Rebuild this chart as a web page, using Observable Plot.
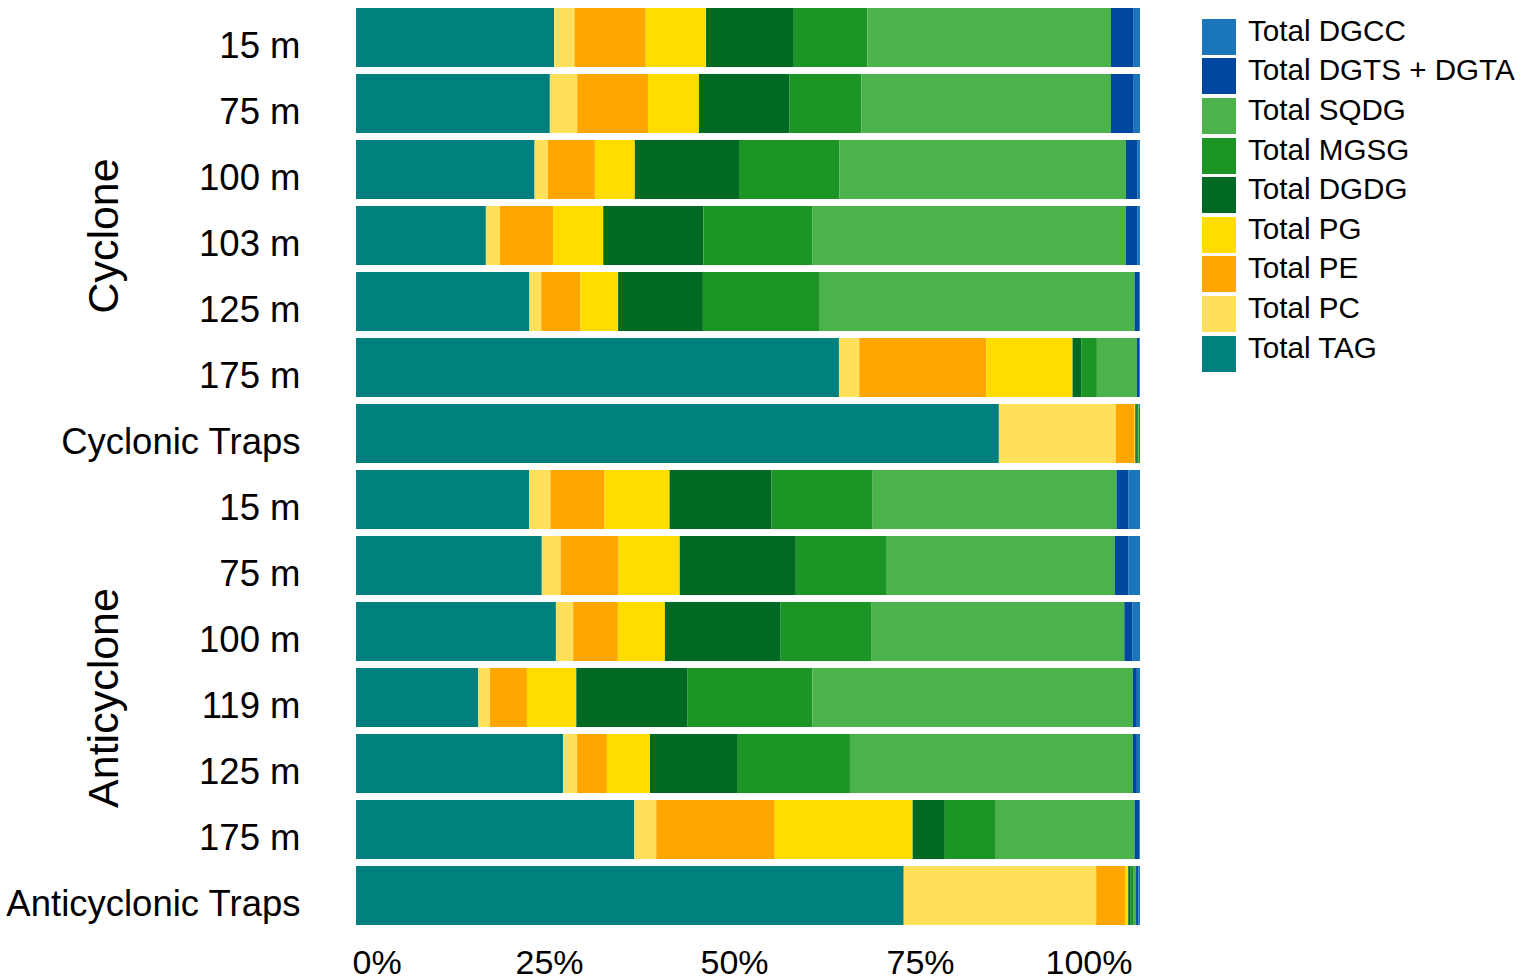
<!DOCTYPE html>
<html><head><meta charset="utf-8">
<script src="https://cdn.jsdelivr.net/npm/d3@7"></script>
<script src="https://cdn.jsdelivr.net/npm/@observablehq/plot@0.6"></script>
<style>
body{margin:0;background:#fff;font-family:"Liberation Sans",Arial,sans-serif;}
#wrap{position:relative;width:1524px;height:980px;overflow:hidden;}
#legend{position:absolute;left:1202px;top:17px;}
.item{display:flex;align-items:center;height:39.6px;}
.sw{width:34px;height:36px;flex:none;}
.lab{margin-left:12px;font-size:29.6px;color:#000;position:relative;top:-6px;white-space:nowrap;}
</style></head><body><div id="wrap"><div id="chart"></div><div id="legend"></div></div>
<script>
// Row categories (top to bottom)
const groups = ["Cyclone", "Anticyclone"];
const rowGroups = ["Cyclone","Cyclone","Cyclone","Cyclone","Cyclone","Cyclone","Cyclone",
  "Anticyclone","Anticyclone","Anticyclone","Anticyclone","Anticyclone","Anticyclone","Anticyclone"];
const rowLabels = ["15 m","75 m","100 m","103 m","125 m","175 m","Cyclonic Traps",
  "15 m","75 m","100 m","119 m","125 m","175 m","Anticyclonic Traps"];

// Lipid classes (stack order, left to right)
const lipids = ["Total TAG","Total PC","Total PE","Total PG","Total DGDG","Total MGSG","Total SQDG","Total DGTS + DGTA","Total DGCC"];
const lipidColors = ["#007f7f","#ffe05c","#ffa600","#ffdd00","#006a25","#1d9426","#4bb24c","#0047a0","#1b75bb"];

// Percent values per row
const TAG  = [25.3, 24.7, 22.8, 16.6, 22.1, 61.6, 82.0, 22.1, 23.7, 25.5, 15.6, 26.4, 35.5, 70.0];
const PC   = [ 2.6,  3.5,  1.7,  1.8,  1.5,  2.6, 14.9,  2.7,  2.4,  2.2,  1.5,  1.8,  2.8, 24.6];
const PE   = [ 9.1,  9.0,  6.0,  6.8,  5.0, 16.2,  2.4,  6.9,  7.4,  5.7,  4.7,  3.8, 15.1,  3.7];
const PG   = [ 7.7,  6.5,  5.1,  6.4,  4.8, 11.0,  0.1,  8.3,  7.8,  6.0,  6.3,  5.5, 17.6,  0.4];
const DGDG = [11.2, 11.5, 13.3, 12.8, 10.8,  1.1,  0.2, 13.0, 14.8, 14.7, 14.2, 11.2,  4.1,  0.3];
const MGSG = [ 9.4,  9.2, 12.8, 13.9, 14.8,  2.0,  0.2, 12.9, 11.6, 11.6, 15.9, 14.3,  6.5,  0.4];
const SQDG = [31.1, 31.8, 36.6, 40.1, 40.2,  5.1,  0.1, 31.1, 29.1, 32.3, 40.9, 36.1, 17.7,  0.3];
const DGTS = [ 2.9,  2.9,  1.5,  1.5,  0.6,  0.3,  0.1,  1.5,  1.7,  1.0,  0.5,  0.5,  0.6,  0.3];
const DGCC = [ 0.8,  0.8,  0.3,  0.3,  0.1,  0.1,  0.0,  1.5,  1.5,  1.0,  0.4,  0.4,  0.1,  0.2];

const xTicks = [0, 0.25, 0.5, 0.75, 1];

const series = [TAG, PC, PE, PG, DGDG, MGSG, SQDG, DGTS, DGCC];
const keys = rowLabels.map((l, i) => rowGroups[i] + "|" + l);
const data = [];
lipids.forEach((lip, j) => keys.forEach((k, i) => data.push({key: k, lipid: lip, value: series[j][i]})));
const mids = groups.map(g => { const ks = keys.filter((k, i) => rowGroups[i] === g); return ks[Math.floor(ks.length / 2)]; });
const pct = d3.format(".0%");
const font = '"Liberation Sans", Arial, sans-serif';
const xAxisOpts = {tickSize: 0, tickPadding: 19, fontSize: 34, tickFormat: pct, label: null};

const chart = Plot.plot({
  width: 1524, height: 980,
  marginLeft: 356, marginRight: 384, marginTop: 4, marginBottom: 50,
  style: {fontFamily: font, color: "#000", background: "#fff"},
  x: {domain: [0, 1]},
  y: {domain: keys, paddingInner: 0.1, paddingOuter: 0.05},
  color: {domain: lipids, range: lipidColors},
  marks: [
    Plot.barX(data, Plot.stackX({offset: "normalize", order: lipids, x: "value", y: "key", fill: "lipid"})),
    Plot.axisY({tickSize: 0, tickPadding: 56, fontSize: 36.5, dy: 8, tickFormat: k => k.split("|")[1], label: null}),
    Plot.text(groups, {y: mids, text: d => d, frameAnchor: "left", textAnchor: "middle", rotate: -90, dx: -252, fontSize: 43}),
    Plot.axisX({...xAxisOpts, ticks: [xTicks[0]], textAnchor: "start", dx: -4}),
    Plot.axisX({...xAxisOpts, ticks: [xTicks[1]], dx: -3}),
    Plot.axisX({...xAxisOpts, ticks: [xTicks[2]], dx: -14}),
    Plot.axisX({...xAxisOpts, ticks: [xTicks[3]], dx: -24}),
    Plot.axisX({...xAxisOpts, ticks: [xTicks[4]], textAnchor: "end", dx: -8})
  ]
});
document.getElementById("chart").appendChild(chart);

const legend = document.getElementById("legend");
lipids.map((l, i) => [l, lipidColors[i]]).reverse().forEach(([l, c]) => {
  const it = document.createElement("div"); it.className = "item";
  const sw = document.createElement("div"); sw.className = "sw"; sw.style.background = c;
  const lb = document.createElement("div"); lb.className = "lab"; lb.textContent = l;
  it.appendChild(sw); it.appendChild(lb); legend.appendChild(it);
});
</script></body></html>
